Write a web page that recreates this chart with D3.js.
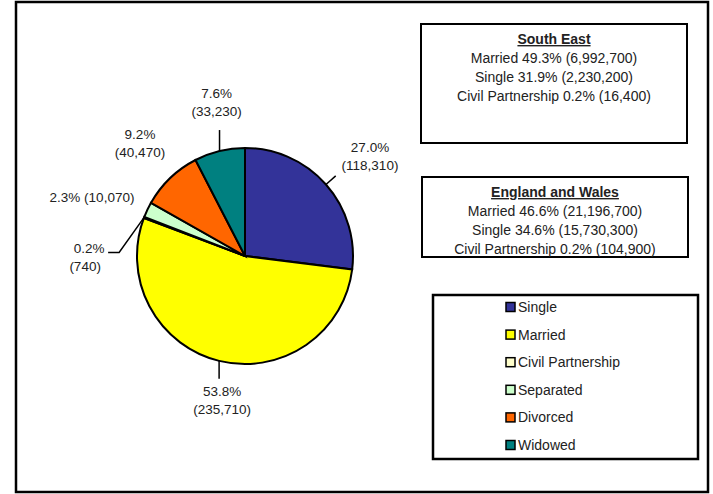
<!DOCTYPE html>
<html>
<head>
<meta charset="utf-8">
<script src="https://cdn.jsdelivr.net/npm/d3@7"></script>
<style>
body { margin: 0; background: #fff; }
text { font-family: "Liberation Sans", Arial, sans-serif; fill: #222; }
</style>
</head>
<body>
<svg width="713" height="494"></svg>
<script>
// Marital status pie, South East area

var categories = ["Single", "Married", "Civil Partnership", "Separated", "Divorced", "Widowed"];
var counts = [118310, 235710, 740, 10070, 40470, 33230];
var percents = ["27.0%", "53.8%", "0.2%", "2.3%", "9.2%", "7.6%"];
var colours = ["#333399", "#ffff00", "#ffffcc", "#ccffcc", "#ff6600", "#008080"];

var southEastLines = ["Married 49.3% (6,992,700)", "Single 31.9% (2,230,200)", "Civil Partnership 0.2% (16,400)"];
var englandLines = ["Married 46.6% (21,196,700)", "Single 34.6% (15,730,300)", "Civil Partnership 0.2% (104,900)"];

var fmt = d3.format(",");

var svg = d3.select("svg");

// outer frame
svg.append("rect")
	.attr("x", 16).attr("y", 2)
	.attr("width", 692).attr("height", 490)
	.attr("fill", "none").attr("stroke", "#000").attr("stroke-width", 2.5);

var cx = 245, cy = 256, r = 108;

var pie = d3.pie().sort(null).value(d => d)(counts);
var arc = d3.arc().innerRadius(0).outerRadius(r);

var g = svg.append("g").attr("transform", "translate(" + cx + "," + cy + ")");

g.selectAll("path")
	.data(pie)
	.enter().append("path")
	.attr("d", arc)
	.attr("fill", (d, i) => colours[i])
	.attr("stroke", "#000")
	.attr("stroke-width", 2);

// label placement per slice (layout only)
var labelCfg = [
	{ kind: "diag", tx: 125, ty: -104 },
	{ kind: "down" },
	{ kind: "elbow" },
	{ kind: "one", tx: -153, ty: -59 },
	{ kind: "free", tx: -105, ty: -117 },
	{ kind: "up" }
];

function edge(d, rr) {
	var a = (d.startAngle + d.endAngle) / 2;
	return [rr * Math.sin(a), -rr * Math.cos(a)];
}

var labels = svg.append("g").attr("transform", "translate(" + cx + "," + cy + ")")
	.style("font-size", "13.5px");

pie.forEach(function(d, i) {
	var cfg = labelCfg[i];
	var p = edge(d, r);
	var l1 = percents[i], l2 = "(" + fmt(counts[i]) + ")";
	var lead = null, tx, ty;
	if (cfg.kind == "diag") {
		lead = [p, edge(d, r + 13)];
		tx = cfg.tx; ty = cfg.ty;
	} else if (cfg.kind == "down") {
		lead = [p, [p[0], p[1] + 18]];
		tx = p[0] + 3; ty = p[1] + 35;
	} else if (cfg.kind == "up") {
		lead = [p, [p[0], p[1] - 21]];
		tx = p[0] - 3; ty = p[1] - 53;
	} else if (cfg.kind == "elbow") {
		var q1 = [p[0] - 25, p[1] + 35];
		var q2 = [q1[0] - 11, q1[1]];
		lead = [p, q1, q2];
		tx = q2[0] - 20; ty = q2[1];
	} else {
		tx = cfg.tx; ty = cfg.ty;
	}
	if (lead) {
		labels.append("path")
			.attr("d", d3.line()(lead))
			.attr("fill", "none").attr("stroke", "#000").attr("stroke-width", 1.5);
	}
	if (cfg.kind == "one") {
		labels.append("text").attr("x", tx).attr("y", ty + 4.5)
			.attr("text-anchor", "middle").text(l1 + " " + l2);
	} else if (cfg.kind == "elbow") {
		labels.append("text").attr("x", tx + 1).attr("y", ty + 1)
			.attr("text-anchor", "middle").text(l1);
		labels.append("text").attr("x", tx - 3).attr("y", ty + 19)
			.attr("text-anchor", "middle").text(l2);
	} else {
		labels.append("text").attr("x", tx).attr("y", ty)
			.attr("text-anchor", "middle").text(l1);
		labels.append("text").attr("x", tx).attr("y", ty + 18)
			.attr("text-anchor", "middle").text(l2);
	}
});

// info boxes
function infoBox(x, y, w, h, title, lines) {
	var b = svg.append("g");
	b.append("rect").attr("x", x).attr("y", y).attr("width", w).attr("height", h)
		.attr("fill", "#fff").attr("stroke", "#000").attr("stroke-width", 2);
	var mid = x + w / 2;
	b.append("text").attr("x", mid).attr("y", y + 20)
		.attr("text-anchor", "middle")
		.style("font-size", "14px").style("font-weight", "bold")
		.style("text-decoration", "underline")
		.text(title);
	b.selectAll("text.line")
		.data(lines)
		.enter().append("text")
		.attr("class", "line")
		.attr("x", mid)
		.attr("y", (l, i) => y + 39 + i * 19)
		.attr("text-anchor", "middle")
		.style("font-size", "14px")
		.text(l => l);
}

infoBox(421, 24, 266, 119, "South East", southEastLines);
infoBox(422, 177, 266, 80, "England and Wales", englandLines);

// legend
var legend = svg.append("g");
legend.append("rect").attr("x", 433).attr("y", 295).attr("width", 265).attr("height", 164)
	.attr("fill", "#fff").attr("stroke", "#000").attr("stroke-width", 2.5);

var legendY = d3.scalePoint().domain(categories).range([307, 445]);

var item = legend.selectAll("g.item")
	.data(categories)
	.enter().append("g")
	.attr("class", "item")
	.attr("transform", c => "translate(506," + legendY(c) + ")");

item.append("rect")
	.attr("x", 0).attr("y", -4.5).attr("width", 9).attr("height", 9)
	.attr("fill", (c, i) => colours[i])
	.attr("stroke", "#000").attr("stroke-width", 1.5);

item.append("text")
	.attr("x", 12).attr("y", 5)
	.style("font-size", "14px")
	.text(c => c);
</script>
</body>
</html>
